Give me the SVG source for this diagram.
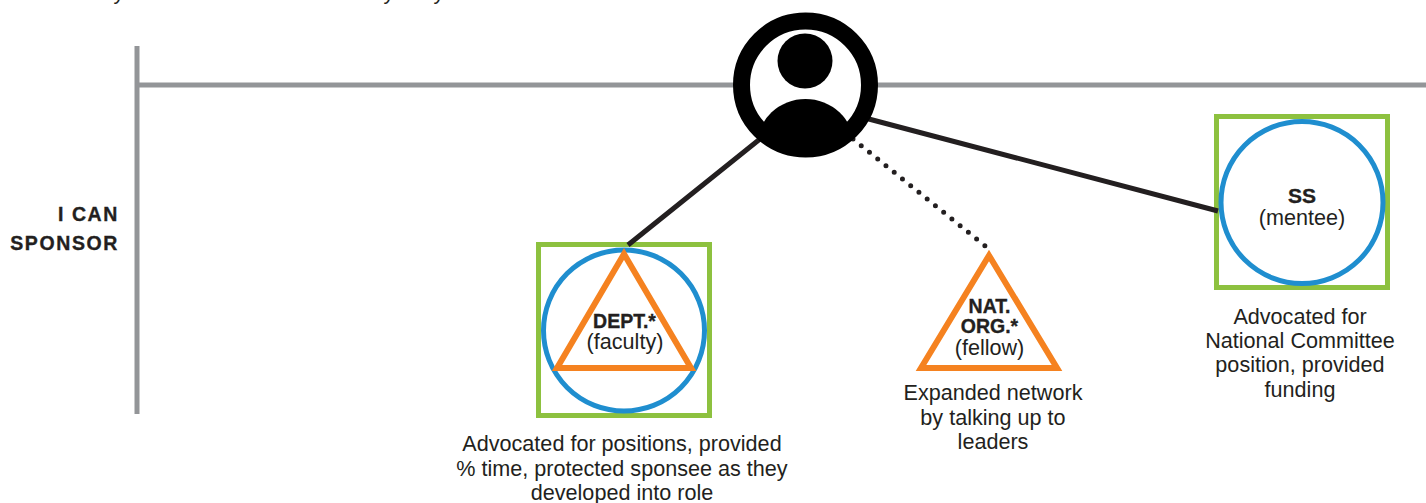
<svg xmlns="http://www.w3.org/2000/svg" width="1426" height="503" viewBox="0 0 1426 503">
<style>
text{font-family:"Liberation Sans",Arial,sans-serif;fill:#231f20;text-anchor:middle;font-size:21.6px}
.b{font-weight:700;font-size:19.5px;stroke:#231f20;stroke-width:.35}
.w{letter-spacing:1.6px}
.sq{fill:none;stroke:#8dc13f;stroke-width:5}
.ci{fill:#fff;stroke:#1f8ecf;stroke-width:5}
.tr{fill:#fff;stroke:#f58220;stroke-width:6;stroke-linejoin:miter}
.ln{fill:none;stroke:#231f20;stroke-width:5}
.ax{fill:none;stroke:#939598;stroke-width:5}
</style>
<defs><clipPath id="cp"><circle cx="805.5" cy="85" r="64"/></clipPath></defs>
<rect width="1426" height="503" fill="#fff"/>
<g id="clipped-title"><text x="119" y="-1">y</text><text x="389" y="-1">y</text><text x="439" y="-1">y</text></g>
<g id="axes"><path class="ax" d="M137 46V414M137 85H1426"/></g>
<g id="row-label"><text class="b w" x="119" y="221" style="text-anchor:end">I CAN</text><text class="b w" x="119" y="250" style="text-anchor:end">SPONSOR</text></g>
<g id="dept">
<rect class="sq" x="538.5" y="244.5" width="171" height="171"/>
<circle class="ci" cx="624" cy="330.5" r="80.5"/>
<path class="tr" d="M624 254L691 368H557Z"/>
<text class="b" x="624.5" y="327.500">DEPT.*</text><text x="625" y="349">(faculty)</text>
<text x="622" y="451">Advocated for positions, provided</text><text x="622" y="476">% time, protected sponsee as they</text><text x="622" y="500">developed into role</text>
</g>
<g id="nat-org">
<path class="tr" d="M989 255.500L1057 368H921Z"/>
<text class="b" x="989.500" y="313">NAT.</text><text class="b" x="989.500" y="333">ORG.*</text><text x="989.500" y="355">(fellow)</text>
<text x="993" y="400">Expanded network</text><text x="993" y="425">by talking up to</text><text x="993" y="449">leaders</text>
</g>
<g id="ss">
<rect class="sq" x="1216.500" y="116.500" width="171" height="171"/>
<circle class="ci" cx="1302" cy="202.500" r="81"/>
<text class="b" x="1302" y="203" style="font-size:21px">SS</text><text x="1302" y="225">(mentee)</text>
<text x="1300" y="324">Advocated for</text><text x="1300" y="348">National Committee</text><text x="1300" y="372">position, provided</text><text x="1300" y="397">funding</text>
</g>
<g id="connectors">
<path class="ln" d="M628 245L765 135M865 118L1218 211"/>
<path d="M853 139L989 249" fill="none" stroke="#231f20" stroke-width="5" stroke-linecap="round" stroke-dasharray="0 10.6"/>
</g>
<g id="person">
<circle cx="805.5" cy="85" r="64" fill="#fff" stroke="#000" stroke-width="17"/>
<circle cx="805" cy="61" r="27.500"/>
<g clip-path="url(#cp)"><ellipse cx="805.500" cy="144" rx="48" ry="45"/><rect x="740" y="144" width="130" height="20"/></g>
</g>
</svg>
